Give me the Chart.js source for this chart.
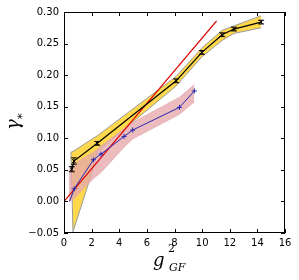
<!DOCTYPE html>
<html>
<head>
<meta charset="utf-8">
<script src="https://cdn.jsdelivr.net/npm/chart.js@4.4.0/dist/chart.umd.min.js"></script>
<style>
  html, body { margin: 0; padding: 0; background: #fff; }
</style>
</head>
<body>
<canvas id="myChart" width="299" height="280"></canvas>
<script>
// black series with error bars
const blackX = [0.56, 0.72, 2.41, 8.12, 9.98, 11.45, 12.3, 14.27];
const blackY = [0.051, 0.064, 0.092, 0.191, 0.236, 0.264, 0.273, 0.284];
const blackErr = [0.004, 0.005, 0.003, 0.003, 0.003, 0.003, 0.003, 0.003];

// blue series
const blueX = [0.4, 0.74, 2.13, 2.68, 4.35, 4.97, 8.36, 9.44];
const blueY = [0.0, 0.02, 0.066, 0.075, 0.103, 0.113, 0.149, 0.175];

// yellow band around black series
const yellowX = [0.5, 0.65, 1.9, 2.41, 8.12, 9.98, 11.45, 12.3, 14.27];
const yellowHi = [0.078, 0.079, 0.097, 0.104, 0.198, 0.243, 0.271, 0.278, 0.294];
const yellowLo = [0.078, -0.048, 0.037, 0.079, 0.183, 0.229, 0.255, 0.266, 0.275];

// pink band around blue series
const pinkX = [0.35, 0.74, 2.13, 2.68, 4.35, 4.97, 8.36, 9.44];
const pinkHi = [0.05, 0.06, 0.078, 0.088, 0.115, 0.125, 0.165, 0.185];
const pinkLo = [0.0, 0.005, 0.036, 0.046, 0.086, 0.099, 0.138, 0.158];

// red straight line
const redX = [0, 11.05];
const redY = [0, 0.286];

const xTicks = [0, 2, 4, 6, 8, 10, 12, 14, 16];
const yTicks = [-0.05, 0, 0.05, 0.1, 0.15, 0.2, 0.25, 0.3];

function toPts(xs, ys) {
  return xs.map((x, i) => ({ x: x, y: ys[i] }));
}

const tickFont = { family: "DejaVu Sans", size: 10 };

// frame + inward ticks on all four sides
const framePlugin = {
  id: "frame",
  afterDraw(chart) {
    const c = chart.ctx;
    const a = chart.chartArea;
    const xs = chart.scales.x;
    const ys = chart.scales.y;
    c.save();
    c.strokeStyle = "#000";
    c.lineWidth = 1;
    c.strokeRect(a.left + 0.5, a.top + 0.5, a.right - a.left - 1, a.bottom - a.top - 1);
    c.beginPath();
    xTicks.forEach((t) => {
      const px = Math.round(xs.getPixelForValue(t)) + 0.5;
      c.moveTo(px, a.bottom);
      c.lineTo(px, a.bottom - 4);
      c.moveTo(px, a.top);
      c.lineTo(px, a.top + 4);
    });
    yTicks.forEach((t) => {
      const py = Math.round(ys.getPixelForValue(t)) + 0.5;
      c.moveTo(a.left, py);
      c.lineTo(a.left + 4, py);
      c.moveTo(a.right, py);
      c.lineTo(a.right - 4, py);
    });
    c.stroke();

    // axis titles
    c.fillStyle = "#000";
    c.textBaseline = "alphabetic";
    c.textAlign = "left";
    c.font = "italic 18px 'DejaVu Serif'";
    c.fillText("g", 153, 266);
    c.font = "11px 'DejaVu Serif'";
    c.fillText("2", 168, 252);
    c.font = "italic 11px 'DejaVu Serif'";
    c.fillText("GF", 169, 271);

    c.translate(19, 130);
    c.rotate(-Math.PI / 2);
    c.font = "italic 18px 'DejaVu Serif'";
    c.fillText("\u03b3", 0, 0);
    const w = c.measureText("\u03b3").width;
    c.font = "12px 'DejaVu Sans'";
    c.fillText("*", w, 7);
    c.restore();
  },
  afterDatasetsDraw(chart) {
    // error bars on black series
    const c = chart.ctx;
    const xs = chart.scales.x;
    const ys = chart.scales.y;
    c.save();
    c.strokeStyle = "#000";
    c.lineWidth = 1;
    c.beginPath();
    blackX.forEach((x, i) => {
      const px = xs.getPixelForValue(x);
      const y1 = ys.getPixelForValue(blackY[i] - blackErr[i]);
      const y2 = ys.getPixelForValue(blackY[i] + blackErr[i]);
      c.moveTo(px, y1);
      c.lineTo(px, y2);
      c.moveTo(px - 3, y1);
      c.lineTo(px + 3, y1);
      c.moveTo(px - 3, y2);
      c.lineTo(px + 3, y2);
    });
    c.stroke();
    c.restore();
  },
};

const ctx = document.getElementById("myChart");

new Chart(ctx, {
  type: "scatter",
  data: {
    datasets: [
      {
        data: toPts(yellowX, yellowHi),
        showLine: true,
        borderColor: "#9a9a9a",
        borderWidth: 1,
        pointRadius: 0,
        fill: false,
        order: 6,
      },
      {
        data: toPts(yellowX, yellowLo),
        showLine: true,
        borderColor: "#9a9a9a",
        borderWidth: 1,
        pointRadius: 0,
        fill: "-1",
        backgroundColor: "#ffd84c",
        order: 6,
      },
      {
        data: toPts(pinkX, pinkHi),
        showLine: true,
        borderColor: "rgba(230,170,172,0.7)",
        borderWidth: 1,
        pointRadius: 0,
        fill: false,
        order: 5,
      },
      {
        data: toPts(pinkX, pinkLo),
        showLine: true,
        borderColor: "rgba(230,170,172,0.7)",
        borderWidth: 1,
        pointRadius: 0,
        fill: "-1",
        backgroundColor: "rgba(230,168,170,0.78)",
        order: 5,
      },
      {
        data: toPts(redX, redY),
        showLine: true,
        borderColor: "#e00000",
        borderWidth: 1.3,
        pointRadius: 0,
        order: 3,
      },
      {
        data: toPts(blueX, blueY),
        showLine: true,
        borderColor: "#2626b0",
        borderWidth: 1,
        pointStyle: "cross",
        pointRadius: (c) => (c.dataIndex === 0 ? 0 : 2.5),
        pointBorderColor: "#2626b0",
        pointBorderWidth: 1,
        order: 2,
      },
      {
        data: toPts(blackX, blackY),
        showLine: true,
        borderColor: "#000",
        borderWidth: 1.2,
        pointStyle: "crossRot",
        pointRadius: 2.5,
        pointBorderColor: "#000",
        pointBorderWidth: 1,
        order: 1,
      },
    ],
  },
  options: {
    responsive: false,
    animation: false,
    layout: { padding: { top: 12, right: 14, left: 0, bottom: 0 } },
    plugins: {
      legend: { display: false },
      tooltip: { enabled: false },
    },
    scales: {
      x: {
        type: "linear",
        min: 0,
        max: 16,
        afterFit: (s) => { s.height = 47; },
        afterBuildTicks: (s) => { s.ticks = xTicks.map((v) => ({ value: v })); },
        ticks: { font: tickFont, color: "#000", padding: 4, maxRotation: 0 },
        grid: { drawOnChartArea: false, drawTicks: false },
        border: { display: false },
      },
      y: {
        type: "linear",
        min: -0.05,
        max: 0.3,
        afterFit: (s) => { s.width = 64; },
        afterBuildTicks: (s) => { s.ticks = yTicks.map((v) => ({ value: v })); },
        ticks: {
          font: tickFont,
          color: "#000",
          padding: 5,
          callback: (v) => (Math.abs(v) < 1e-9 ? "0.00" : Number(v).toFixed(2).replace("-", "\u2212")),
        },
        grid: { drawOnChartArea: false, drawTicks: false },
        border: { display: false },
      },
    },
  },
  plugins: [framePlugin],
});
</script>
</body>
</html>
